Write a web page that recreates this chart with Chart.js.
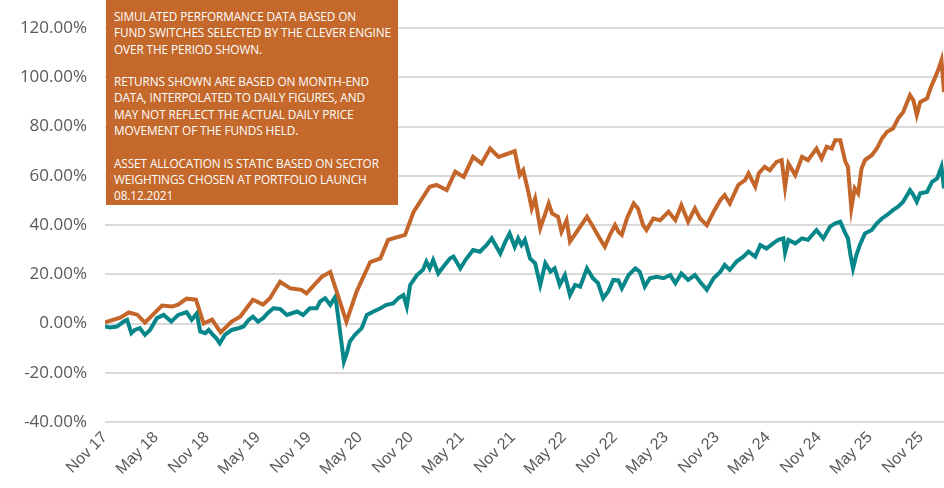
<!DOCTYPE html>
<html>
<head>
<meta charset="utf-8">
<script src="https://cdn.jsdelivr.net/npm/chart.js@4"></script>
<style>
  html,body{margin:0;padding:0;background:#fff;}
  #wrap{position:relative;width:944px;height:488px;overflow:hidden;}
  #note{position:absolute;left:106px;top:0;width:292px;height:205px;background:#C4682B;color:#fff;
    font-family:"Open Sans",sans-serif;font-size:11.8px;line-height:16.3px;box-sizing:border-box;padding:8px 0 0 8px;letter-spacing:-0.1px;white-space:nowrap;}
  #note p{margin:0 0 16.3px 0;}
</style>
</head>
<body>
<div id="wrap">
<canvas id="c" width="944" height="488"></canvas>
<div id="note">
<p>SIMULATED PERFORMANCE DATA BASED ON<br>FUND SWITCHES SELECTED BY THE CLEVER ENGINE<br>OVER THE PERIOD SHOWN.</p>
<p>RETURNS SHOWN ARE BASED ON MONTH-END<br>DATA, INTERPOLATED TO DAILY FIGURES, AND<br>MAY NOT REFLECT THE ACTUAL DAILY PRICE<br>MOVEMENT OF THE FUNDS HELD.</p>
<p>ASSET ALLOCATION IS STATIC BASED ON SECTOR<br>WEIGHTINGS CHOSEN AT PORTFOLIO LAUNCH<br>08.12.2021</p>
</div>
</div>
<script>
// x values: months since Nov 2017
const monthNames = ["Nov","Dec","Jan","Feb","Mar","Apr","May","Jun","Jul","Aug","Sep","Oct"];
const yTicks = [-40,-20,0,20,40,60,80,100,120];

const orangeMonths = [0,1.8,2.8,3.8,4.7,6.7,7.9,8.6,9.6,10.7,11.6,12.6,13.6,14.9,15.9,17.4,18.6,19.4,20.6,21.8,23.1,23.7,25.5,26.5,28.4,29.6,31.2,32.4,33.3,35.3,36.3,38.2,39.0,40.2,41.2,42.2,43.3,44.3,45.3,46.3,48.2,48.8,49.2,49.8,50.2,50.6,51.2,51.6,52.2,52.6,53.3,53.7,54.3,54.7,55.5,56.7,57.4,58.2,58.8,59.4,60.0,60.4,60.8,61.4,62.2,62.7,63.3,63.7,64.5,65.3,66.3,67.1,67.8,68.6,69.4,70.0,70.8,71.6,72.4,72.9,73.5,74.5,75.3,75.7,76.5,76.9,77.6,78.2,79.0,79.6,80.0,80.4,81.2,82.0,82.7,83.7,84.3,84.9,85.5,85.9,86.5,87.1,87.4,87.8,88.2,88.6,89.0,89.4,90.2,90.8,91.4,92.0,92.7,93.3,93.9,94.7,95.1,95.5,95.9,96.7,97.1,97.6,98.0,98.4,98.7];
const orangeValues = [0.5,2.4,4.5,3.6,0.4,7.3,6.9,7.7,10.1,9.7,0,1.6,-3.6,0.8,2.8,9.7,7.7,10.3,17,14.3,13.7,12.3,19,21,0.8,13,25,26.5,34,36,45.4,55.6,56.3,54.2,61.7,59.6,67.7,65,71.1,67.7,70,60.3,62.3,53.5,46.8,50.8,38.7,42.7,48.8,44.7,43.4,37.3,42,33.3,37.3,43.4,39.4,34.6,31.2,36,40,37.3,36,42.7,48.8,46.8,40,38,42.7,42,45.4,42,48.1,41.4,46.8,42.7,40,45.4,50.2,52.2,48.8,56.3,58.3,61,55.6,61,63.7,62.3,65.7,66.4,55.3,65,60.3,67.7,66.4,71.1,67,71.8,71.1,74.5,74.5,65.7,63.7,46.8,54.9,52.9,63,66.4,68.4,71.1,75.2,77.9,79.2,83.3,86,92.8,90.7,84.7,90,91.4,95.5,99.5,102.9,107,94];

const tealMonths = [0,0.6,1.4,2.2,2.6,3.1,3.5,4.1,4.7,5.3,6.1,6.9,7.8,8.6,9.6,10.2,10.8,11.2,11.8,12.2,12.7,13.1,13.5,14.1,14.9,15.7,16.3,16.9,17.4,18.0,18.6,19.2,19.8,20.6,21.4,22.6,23.3,24.1,24.9,25.3,25.9,26.5,27.1,27.4,27.8,28.1,28.5,28.8,29.4,30.2,30.8,31.6,32.4,33.1,33.9,34.5,35.1,35.5,35.9,36.7,37.4,37.8,38.2,38.6,39.2,39.8,40.6,41.0,41.8,42.4,43.3,44.1,44.9,45.5,46.5,47.1,47.6,48.2,48.6,49.0,49.4,50.0,50.6,51.2,51.8,52.4,52.9,53.5,54.1,54.7,55.3,55.9,56.7,57.4,58.0,58.6,59.2,59.8,60.4,60.8,61.6,62.4,62.9,63.5,64.1,64.9,65.7,66.5,67.1,67.8,68.6,69.4,70.0,70.8,71.6,72.4,72.9,73.5,74.3,75.1,75.7,76.5,77.1,77.8,78.6,79.2,79.8,80.0,80.4,81.2,82.0,82.7,83.7,84.5,85.3,85.9,86.5,87.1,87.4,87.7,88.0,88.4,88.8,89.4,90.2,90.8,91.4,92.0,92.7,93.3,93.9,94.7,95.1,95.5,95.9,96.7,97.3,97.9,98.4,98.7];
const tealValues = [-1.2,-1.6,-1.2,0.8,1.5,-3.9,-2.6,-1.9,-4.6,-2.6,2.2,3.5,0.8,3.5,4.6,1.5,4.2,-3.2,-3.9,-2.6,-4.6,-6,-8,-4.6,-2.6,-1.9,-1.2,1.5,2.8,0.8,2.2,4.4,6.2,5.9,3.5,4.9,3.5,6.2,6.2,8.9,10.3,7.6,11,3.5,-7.3,-15.4,-11.4,-7.3,-4.6,-1.9,3.5,4.9,6.2,7.6,8.2,10.3,11.6,6.9,15.7,19.7,21.8,25.2,22.4,25.8,20.4,23.1,26.5,27.2,22.4,25.8,29.9,29.2,31.9,34.6,28.5,33.3,36.6,31.2,34.6,31.9,34,26.5,24.5,15.7,24.5,21.1,22.4,15.7,19.7,11.6,15.7,15,22.4,18.4,16.4,10.3,13,17.7,17.5,14.3,19.7,22.4,21.1,15,18.4,19,18.4,19.7,16.4,20.4,17.7,19.7,17,13.7,18.4,21.1,23.8,21.8,25.2,27.2,29.2,27.2,31.9,30.5,32.6,34,34.6,28.8,34,32.6,34.6,34,38,34.6,39.4,40.7,41.4,36.6,34.6,27.9,22.4,27.9,31.9,36.6,38,40.7,42.7,44.1,46.1,47.5,49.5,54.2,52.2,49.5,52.9,53.5,57.6,59,63.7,54.9];

const toXY = (xs, ys) => xs.map((x, i) => ({x: x, y: ys[i]}));

function monthLabel(v) {
  if (Math.abs(v - Math.round(v)) > 1e-6 || Math.round(v) % 6 !== 0) return '';
  const n = Math.round(v);
  const mi = n % 12;
  const year = 2017 + Math.floor((10 + n) / 12);
  return monthNames[mi] + ' ' + String(year).slice(2);
}

new Chart(document.getElementById('c'), {
  type: 'line',
  data: {
    datasets: [
      {label: 'Portfolio', data: toXY(orangeMonths, orangeValues), borderColor: '#C4652A', borderWidth: 4, pointRadius: 0, tension: 0, fill: false},
      {label: 'Benchmark', data: toXY(tealMonths, tealValues), borderColor: '#08878A', borderWidth: 4, pointRadius: 0, tension: 0, fill: false}
    ]
  },
  options: {
    responsive: false,
    animation: false,
    layout: {padding: {top: 26, right: 0, left: 0, bottom: 0}},
    plugins: {legend: {display: false}, tooltip: {enabled: false}},
    scales: {
      x: {
        type: 'linear', min: 0, max: 98.7,
        grid: {display: false, drawTicks: false},
        border: {display: false},
        afterFit: (s) => { s.height = 66; },
        afterBuildTicks: (s) => { s.ticks = []; for (let v = 0; v <= 96; v += 6) s.ticks.push({value: v}); },
        ticks: {
          autoSkip: false, maxRotation: 45, minRotation: 45, padding: 6,
          color: '#595959', font: {family: 'Liberation Sans', size: 16},
          callback: (v) => monthLabel(v)
        }
      },
      y: {
        min: -40, max: 120,
        afterFit: (s) => { s.width = 105; },
        afterBuildTicks: (s) => { s.ticks = yTicks.map(v => ({value: v})); },
        grid: {color: '#D9D9D9', lineWidth: 2, drawTicks: false},
        border: {display: false},
        ticks: {
          padding: 18, color: '#595959', font: {family: 'Open Sans', size: 17},
          callback: (v) => v.toFixed(2) + '%'
        }
      }
    }
  }
});
</script>
</body>
</html>
